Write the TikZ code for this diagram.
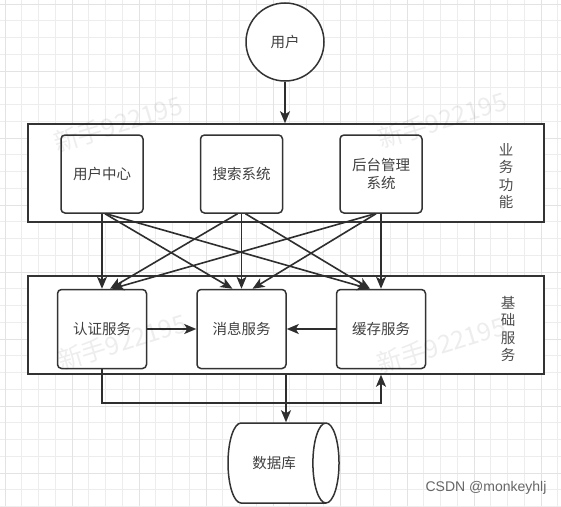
\documentclass[tikz,border=0pt]{standalone}
\usepackage{fontspec}
\setmainfont{Liberation Sans}
\newfontfamily\cjk{Noto Sans CJK SC}
\usepackage{xcolor}
\usepackage{tikz}
\usetikzlibrary{arrows.meta}
\usetikzlibrary{positioning}
\usetikzlibrary{shapes.geometric}

\begin{document}
\begin{tikzpicture}
    [x=1pt, y=-1pt,
      % Hintergrundraster
      gridline/.style={draw=black!7, line width=0.6pt},
      gridmajor/.style={draw=black!11, line width=0.8pt},
      % Stil für den Benutzer
      user/.style={circle, draw=black!80, line width=1.5pt, fill=white, minimum size=78pt, font=\cjk\fontsize{14.5}{17}\selectfont, text=black!75},
      % Stil für die Schichten
      band/.style={rectangle, draw=black!80, line width=1.5pt, fill=white, minimum width=516pt, minimum height=98pt},
      % Stil für Funktionen und Dienste
      func/.style={rectangle, rounded corners=4pt, draw=black!80, line width=1.5pt, fill=white, minimum width=82pt, minimum height=78pt, align=center, font=\cjk\fontsize{14.5}{18}\selectfont, text=black!75},
      svc/.style={func, minimum width=89pt, minimum height=79pt},
      tag/.style={align=center, font=\cjk\fontsize{14.5}{17.5}\selectfont, text=black!70},
      db/.style={cylinder, aspect=1.3, draw=black!80, line width=1.5pt, fill=white, minimum width=80pt, minimum height=111pt, font=\cjk\fontsize{14.5}{17}\selectfont, text=black!75},
      conn/.style={-{Stealth[length=12pt, width=10pt, inset=3pt]}, color=black!82, line width=1.6pt},
      wm/.style={rotate=17, font=\cjk\fontsize{25}{25}\selectfont, text=black, opacity=0.07},
      node distance=4mm]
    \useasboundingbox[fill=white] (0,0) rectangle (561,506);
    % Raster
    \foreach \i in {0,...,33} {
      \draw[gridline] ({5+16.75*\i},0) -- ({5+16.75*\i},506);
      \draw[gridline] (0,{4+16.75*\i}) -- (561,{4+16.75*\i});
    }
    \foreach \i in {0,...,8} {
      \draw[gridmajor] ({5+67*\i},0) -- ({5+67*\i},506);
      \draw[gridmajor] (0,{4+67*\i}) -- (561,{4+67*\i});
    }

    % Knoten
    \node[user] (yh) at (285,42) {用户};
    \node[band] (yw) at (286,173) {};
    \node[band] (jc) at (286,325) {};

    \node[func] (uc) at (102,174) {用户中心};
    \node[func, right=56pt of uc] (ss) {搜索系统};
    \node[func, right=56pt of ss] (ht) {后台管理\\系统};

    \node[svc, below=75pt of uc] (rz) {认证服务};
    \node[svc, right=49pt of rz] (xx) {消息服务};
    \node[svc, right=49pt of xx] (hc) {缓存服务};

    \node[tag] (ywtag) at (506,176) {业\\务\\功\\能};
    \node[tag] (jctag) at (508,329) {基\\础\\服\\务};

    \node[db] (shujuku) at (274,463) {数据库};

    % Kanten
    \draw[conn] (yh) -- (yh |- yw.north);
    \path[conn]
      (uc.south) edge (rz.north)
      ([xshift=3pt]uc.south) edge ([xshift=-9pt]xx.north)
      ([xshift=4pt]uc.south) edge ([xshift=-12pt]hc.north)
      ([xshift=-4pt]ss.south) edge ([xshift=8pt]rz.north)
      (ss.south) edge (xx.north)
      ([xshift=4pt]ss.south) edge ([xshift=-11pt]hc.north)
      ([xshift=-6pt]ht.south) edge ([xshift=10pt]rz.north)
      ([xshift=-5pt]ht.south) edge ([xshift=11pt]xx.north)
      (ht.south) edge (hc.north)
      (rz) edge (xx)
      (hc) edge (xx);
    \draw[conn] (rz.south) -- ++(0,34) -| (hc.south |- jc.south);
    \draw[conn] (jc.south) -- (jc.south |- shujuku.north);

    % Wasserzeichen
    \node[wm] (wm1) at (118,124) {新手922195};
    \node[wm] (wm2) at (442,120) {新手922195};
    \node[wm] (wm3) at (122,342) {新手922195};
    \node[wm] (wm4) at (441,345) {新手922195};
    \node[text=black!60, font=\fontsize{14}{16}\selectfont] (csdn) at (486,488) {CSDN @monkeyhlj};
\end{tikzpicture}
\end{document}
